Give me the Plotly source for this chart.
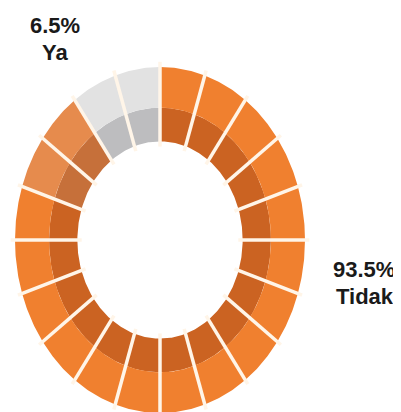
import numpy as np
import plotly.graph_objects as go

# ---- data ----
categories = ["Ya", "Tidak"]
percentages = [6.5, 93.5]
segment_counts = [2, 18]          # pictogram segments drawn for each category

# ---- styling / layout constants ----
W, H = 401, 412
OFF = 8                           # default page body margin
CX, CY = 160, 240                 # ring centre (page pixels)
RX, RY = 145, 173                 # outer radii (ring is drawn slightly tall)
F_IN, F_MID, F_OUT = 0.57, 0.765, 1.0

light = {"Ya": "#E2E2E2", "Tidak": "#F0802F"}
dark = {"Ya": "#BDBDBF", "Tidak": "#CB6322"}
faded_light, faded_dark = "#E68B4D", "#C6703A"
gap_color = "#FFF5E8"

fig = go.Figure()


def pt(theta_deg, f):
    t = np.radians(theta_deg)
    return CX + f * RX * np.sin(t), CY - f * RY * np.cos(t)


def band(t0, t1, f0, f1):
    ts = np.linspace(t0, t1, 30)
    xo, yo = pt(ts, f1)
    xi, yi = pt(ts[::-1], f0)
    return list(xo) + list(xi) + [xo[0]], list(yo) + list(yi) + [yo[0]]


n_total = sum(segment_counts)
step = 360.0 / n_total
order = ["Tidak", "Ya"]
idx = 0
for cat in order:
    k = categories.index(cat)
    for j in range(segment_counts[k]):
        t0, t1 = idx * step, (idx + 1) * step
        lc, dc = light[cat], dark[cat]
        if cat == "Tidak" and j >= segment_counts[k] - 2:
            lc, dc = faded_light, faded_dark
        for (f0, f1, col) in [(F_IN, F_MID, dc), (F_MID, F_OUT, lc)]:
            xs, ys = band(t0, t1, f0, f1)
            fig.add_trace(go.Scatter(x=xs, y=ys, mode="lines", fill="toself",
                                     fillcolor=col, line=dict(width=0),
                                     hoverinfo="skip", showlegend=False))
        idx += 1

# radial gaps between segments
gx, gy = [], []
for b in range(n_total):
    x0, y0 = pt(b * step, F_IN - 0.03)
    x1, y1 = pt(b * step, F_OUT + 0.03)
    gx += [x0, x1, None]
    gy += [y0, y1, None]
fig.add_trace(go.Scatter(x=gx, y=gy, mode="lines",
                         line=dict(color=gap_color, width=3.5),
                         hoverinfo="skip", showlegend=False))

font = dict(family="Liberation Sans Narrow, Arial Narrow, Liberation Sans, Arial",
            size=22, color="#1a1a1a")
ann = [
    (55, 25, f"{percentages[0]}%"), (55, 52, categories[0]),
    (364, 269, f"{percentages[1]}%"), (365, 296, categories[1]),
]
for x, y, t in ann:
    fig.add_annotation(x=x, y=y, text=f"<b>{t}</b>", showarrow=False,
                       font=font, xanchor="center", yanchor="middle")

fig.update_layout(
    width=W - OFF, height=H - OFF, margin=dict(l=0, r=0, t=0, b=0),
    paper_bgcolor="white", plot_bgcolor="white",
    xaxis=dict(range=[OFF, W], visible=False, fixedrange=True),
    yaxis=dict(range=[H, OFF], visible=False, fixedrange=True),
    hovermode=False, showlegend=False,
)
fig.write_html("out.html")
